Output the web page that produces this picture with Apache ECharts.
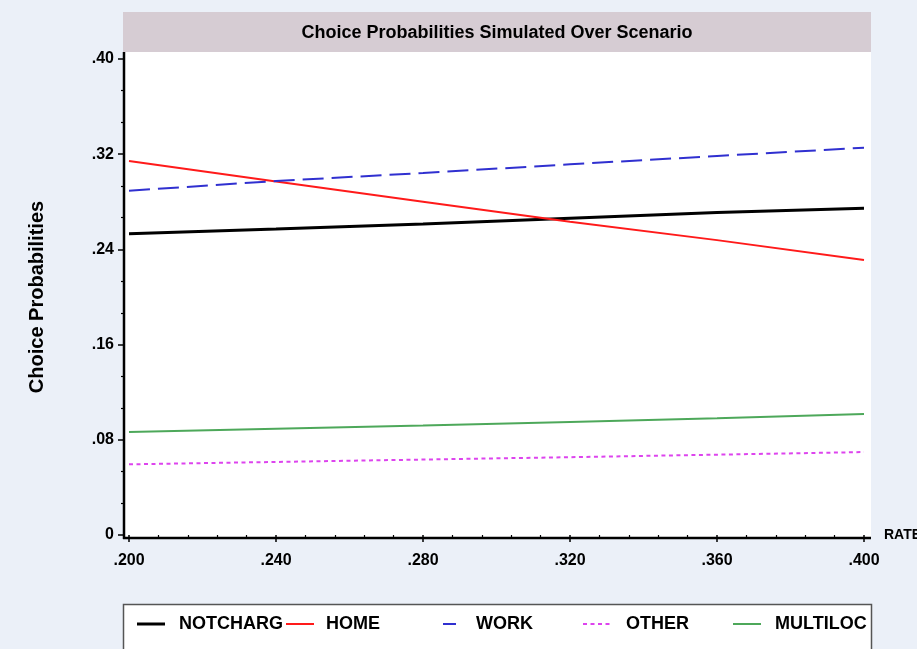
<!DOCTYPE html>
<html>
<head>
<meta charset="utf-8">
<script src="https://cdn.jsdelivr.net/npm/echarts@6/dist/echarts.min.js"></script>
<style>
  html, body { margin: 0; padding: 0; background: #EBF0F8; }
  #chart { width: 917px; height: 649px; }
</style>
</head>
<body>
<div id="chart"></div>
<script>
// Simulated choice probabilities as RATE varies
const rates = [0.20, 0.24, 0.28, 0.32, 0.36, 0.40];
const notcharg = [0.2532, 0.2572, 0.2614, 0.2662, 0.2710, 0.2746];
const home     = [0.3143, 0.2970, 0.2800, 0.2633, 0.2478, 0.2311];
const work     = [0.2893, 0.2975, 0.3042, 0.3115, 0.3185, 0.3255];
const other    = [0.0594, 0.0614, 0.0634, 0.0654, 0.0675, 0.0697];
const multiloc = [0.0866, 0.0893, 0.0921, 0.0950, 0.0982, 0.1017];

const seriesNames = ['NOTCHARG', 'HOME', 'WORK', 'OTHER', 'MULTILOC'];
const seriesValues = [notcharg, home, work, other, multiloc];
const seriesColors = ['#000000', '#FF1A1A', '#3030D0', '#DD44EE', '#4DA85A'];
const seriesWidths = [3, 2, 2, 2, 2];
const seriesDash = ['solid', 'solid', [21, 8], [4, 3.5], 'solid'];

const FONT = 'Liberation Sans, Arial, sans-serif';
const chart = echarts.init(document.getElementById('chart'), null, { renderer: 'canvas' });

const pairs = vals => rates.map((r, i) => [r, vals[i]]);

// Legend key: a short line sample followed by the series name
const keyLineX = [137, 286, 443, 583, 733];
const keyTextX = [179, 326, 476, 626, 775];
const keyY = 624;
const legendGraphics = [];
seriesNames.forEach((n, i) => {
  legendGraphics.push({
    type: 'line', z: 10,
    shape: { x1: keyLineX[i], y1: keyY, x2: keyLineX[i] + 28, y2: keyY },
    style: {
      stroke: seriesColors[i], lineWidth: seriesWidths[i],
      lineDash: i === 2 ? [13, 30] : (Array.isArray(seriesDash[i]) ? seriesDash[i] : null)
    }
  });
  legendGraphics.push({
    type: 'text', z: 10,
    style: {
      text: n, x: keyTextX[i], y: keyY, align: 'left', verticalAlign: 'middle',
      font: 'bold 18px ' + FONT, fill: '#000'
    }
  });
});

chart.setOption({
  backgroundColor: '#EBF0F8',
  animation: false,
  graphic: [
    { type: 'rect', z: -10, shape: { x: 123, y: 12, width: 748, height: 40 },
      style: { fill: '#D6CCD3' } },
    { type: 'rect', z: -10, shape: { x: 123, y: 52, width: 748, height: 486 },
      style: { fill: '#FFFFFF' } },
    { type: 'text', z: 10, style: {
        text: 'Choice Probabilities Simulated Over Scenario',
        x: 497, y: 33, align: 'center', verticalAlign: 'middle',
        font: 'bold 18px ' + FONT, fill: '#000' } },
    { type: 'line', z: 10, shape: { x1: 124, y1: 52, x2: 124, y2: 539 },
      style: { stroke: '#000', lineWidth: 2.5 } },
    { type: 'line', z: 10, shape: { x1: 123, y1: 538, x2: 871, y2: 538 },
      style: { stroke: '#000', lineWidth: 2.5 } },
    { type: 'rect', z: -5, shape: { x: 123.5, y: 604.5, width: 748, height: 50 },
      style: { fill: '#FFFFFF', stroke: '#555555', lineWidth: 1.5 } }
  ].concat(legendGraphics),
  grid: { left: 129, right: 53, top: 59, bottom: 114, containLabel: false,
          outerBoundsMode: 'none' },
  xAxis: {
    type: 'value', min: 0.2, max: 0.4, interval: 0.04, offset: 3,
    name: 'RATE', nameLocation: 'end', nameGap: 20,
    nameTextStyle: { fontFamily: FONT, fontWeight: 'bold', fontSize: 14, color: '#000',
      verticalAlign: 'middle' },
    axisLine: { show: false },
    axisTick: { show: true, inside: false, length: 7, lineStyle: { color: '#000', width: 1.5 } },
    minorTick: { show: true, splitNumber: 5, length: 4, lineStyle: { color: '#000', width: 1.2 } },
    splitLine: { show: false },
    axisLabel: {
      margin: 15, fontFamily: FONT, fontWeight: 'bold', fontSize: 16, color: '#000',
      formatter: v => '.' + String(Math.round(v * 1000)).padStart(3, '0')
    }
  },
  yAxis: {
    type: 'value', min: 0, max: 0.4, interval: 0.08, offset: 5,
    name: 'Choice Probabilities', nameLocation: 'middle', nameGap: 77, nameRotate: 90,
    nameTextStyle: { fontFamily: FONT, fontWeight: 'bold', fontSize: 20, color: '#000' },
    axisLine: { show: false },
    axisTick: { show: true, length: 6, lineStyle: { color: '#000', width: 1.5 } },
    minorTick: { show: true, splitNumber: 3, length: 3, lineStyle: { color: '#000', width: 1.2 } },
    splitLine: { show: false },
    axisLabel: {
      margin: 10, fontFamily: FONT, fontWeight: 'bold', fontSize: 16, color: '#000',
      formatter: v => {
        const n = Math.round(v * 100);
        return n === 0 ? '0' : '.' + String(n).padStart(2, '0');
      }
    }
  },
  series: seriesNames.map((n, i) => ({
    name: n,
    type: 'line',
    data: pairs(seriesValues[i]),
    symbol: 'none',
    smooth: false,
    clip: false,
    color: seriesColors[i],
    lineStyle: { color: seriesColors[i], width: seriesWidths[i], type: seriesDash[i] }
  }))
});
</script>
</body>
</html>
